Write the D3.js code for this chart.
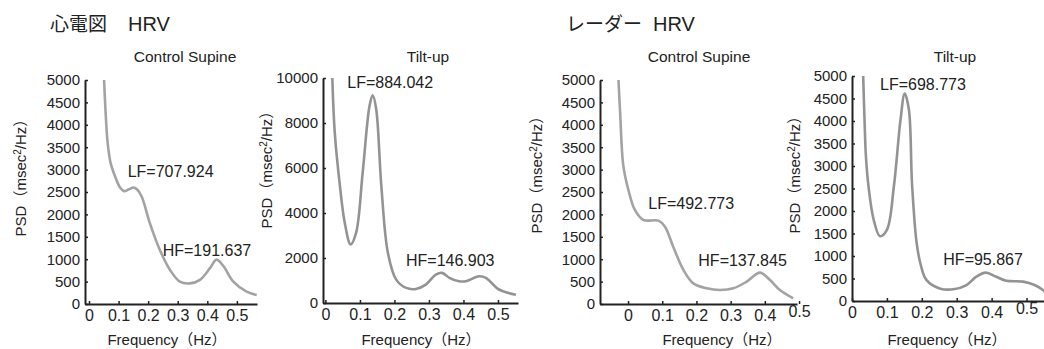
<!DOCTYPE html>
<html>
<head>
<meta charset="utf-8">
<script src="https://cdn.jsdelivr.net/npm/d3@7"></script>
<style>
  html, body { margin: 0; padding: 0; background: #fff; }
  svg { display: block; }
  text { font-family: "Liberation Sans", Arial, sans-serif; fill: #222; }
  .cjk { font-family: "Noto Sans CJK JP", "Liberation Sans", sans-serif; }
</style>
</head>
<body>
<div id="chart"></div>
<script>
// ---- datos ----
const groupTitles = ['心電図', 'レーダー'];
const panelTitles = ['Control Supine', 'Tilt-up', 'Control Supine', 'Tilt-up'];
const lfLabels = ['LF=707.924', 'LF=884.042', 'LF=492.773', 'LF=698.773'];
const hfLabels = ['HF=191.637', 'HF=146.903', 'HF=137.845', 'HF=95.867'];

const ticks5000 = [0, 500, 1000, 1500, 2000, 2500, 3000, 3500, 4000, 4500, 5000];
const ticks10000 = [0, 2000, 4000, 6000, 8000, 10000];
const freqTicks = [0, 0.1, 0.2, 0.3, 0.4, 0.5];

// ECG, supine
const ecgSupineFreq = [0.051, 0.056, 0.063, 0.073, 0.088, 0.105, 0.118, 0.135, 0.150, 0.162, 0.178, 0.206, 0.240, 0.274, 0.307, 0.341, 0.375, 0.409, 0.431, 0.454, 0.488, 0.533, 0.567];
const ecgSupinePsd  = [5000, 4300, 3600, 3150, 2850, 2600, 2520, 2560, 2600, 2560, 2400, 1800, 1200, 760, 500, 460, 540, 800, 990, 850, 500, 275, 200];

// ECG, tilt-up
const ecgTiltFreq = [0.020, 0.027, 0.042, 0.056, 0.073, 0.089, 0.108, 0.128, 0.137, 0.147, 0.162, 0.181, 0.205, 0.234, 0.262, 0.291, 0.320, 0.338, 0.359, 0.387, 0.407, 0.445, 0.465, 0.503, 0.552];
const ecgTiltPsd  = [10000, 7590, 5210, 3570, 2600, 3125, 5800, 8780, 9230, 8630, 5210, 2230, 1040, 670, 625, 820, 1260, 1340, 1120, 970, 970, 1190, 1120, 600, 370];

// Radar, supine
const radarSupineFreq = [-0.028, -0.023, -0.014, 0.001, 0.020, 0.045, 0.089, 0.108, 0.132, 0.162, 0.191, 0.230, 0.269, 0.308, 0.347, 0.386, 0.415, 0.444, 0.483];
const radarSupinePsd  = [5000, 4256, 3100, 2545, 2100, 1875, 1860, 1725, 1280, 760, 460, 350, 312, 350, 500, 700, 535, 312, 127];

// Radar, tilt-up
const radarTiltFreq = [0.032, 0.036, 0.040, 0.048, 0.062, 0.080, 0.100, 0.120, 0.139, 0.151, 0.163, 0.172, 0.185, 0.197, 0.213, 0.251, 0.290, 0.328, 0.356, 0.383, 0.413, 0.442, 0.490, 0.523, 0.547, 0.555];
const radarTiltPsd  = [5000, 4000, 3200, 2500, 1810, 1440, 1580, 2550, 4030, 4610, 4250, 2600, 1300, 800, 470, 280, 260, 355, 540, 630, 540, 450, 430, 355, 245, 185];

// ---- disposición (píxeles) ----
const width = 1044, height = 349;

const layout = [
  { x0: 85,  x1: 257,  fMin: -0.0135, fMax: 0.568, y0: 304, y1: 80, yMax: 5000,  ticks: ticks5000,  freq: ecgSupineFreq,   psd: ecgSupinePsd,
    title: [185, 62], lf: [127.7, 177], hf: [162.7, 256], ylab: [21, 170], xlab: [163, 345], stroke: '#a3a3a3' },
  { x0: 323, x1: 518,  fMin: -0.007,  fMax: 0.558, y0: 303, y1: 78, yMax: 10000, ticks: ticks10000, freq: ecgTiltFreq,     psd: ecgTiltPsd,
    title: [428, 62], lf: [347.3, 88],  hf: [406, 266],    ylab: [267, 162], xlab: [417, 345], stroke: '#939393' },
  { x0: 600, x1: 797,  fMin: -0.082,  fMax: 0.494, y0: 304, y1: 80, yMax: 5000,  ticks: ticks5000,  freq: radarSupineFreq, psd: radarSupinePsd,
    title: [699, 62], lf: [648.3, 208.5], hf: [698.3, 266], ylab: [537, 167], xlab: [718, 345], stroke: '#a3a3a3' },
  { x0: 852, x1: 1044, fMin: 0,       fMax: 0.55,  y0: 301, y1: 76, yMax: 5000,  ticks: ticks5000,  freq: radarTiltFreq,   psd: radarTiltPsd,
    title: [955, 62], lf: [880, 90],    hf: [943.3, 265],  ylab: [795, 167], xlab: [943, 345], stroke: '#939393' }
];

const svg = d3.select('#chart').append('svg')
  .attr('width', width)
  .attr('height', height);

// títulos de grupo: parte japonesa + "HRV"
function groupTitle(x, hrvX, label) {
  const t = svg.append('text').attr('x', x).attr('y', 31);
  t.append('tspan').attr('class', 'cjk').style('font-size', '19px').text(label);
  t.append('tspan').attr('x', hrvX).style('font-size', '20px').text('HRV');
}
groupTitle(50, 128, groupTitles[0]);
groupTitle(566, 653, groupTitles[1]);

layout.forEach((p, i) => {
  const x = d3.scaleLinear().domain([p.fMin, p.fMax]).range([p.x0, p.x1]);
  const y = d3.scaleLinear().domain([0, p.yMax]).range([p.y0, p.y1]);
  const g = svg.append('g');

  // ejes
  const yAxis = d3.axisLeft(y).tickValues(p.ticks).tickSizeInner(-3).tickSizeOuter(0).tickPadding(5).tickFormat(d3.format('d'));
  const xAxis = d3.axisBottom(x).tickValues(freqTicks).tickSizeInner(-3).tickSizeOuter(0).tickPadding(6)
    .tickFormat(d => d === 0 ? '0' : d3.format('.1f')(d));

  const ya = g.append('g').attr('transform', `translate(${p.x0},0)`).call(yAxis);
  const xa = g.append('g').attr('transform', `translate(0,${p.y0})`).call(xAxis);

  [ya, xa].forEach(a => {
    a.select('.domain').attr('stroke', '#222').attr('stroke-width', 2);
    a.selectAll('.tick line').attr('stroke', '#222').attr('stroke-width', 1.5);
    a.selectAll('.tick text').attr('fill', '#222');
  });
  ya.selectAll('.tick text').style('font-size', '15px');
  xa.selectAll('.tick text').style('font-size', '16px');
  // la última etiqueta del eje x va algo más arriba en los paneles del radar
  if (i >= 2) {
    xa.selectAll('.tick').filter(d => d === 0.5).select('text').attr('dy', '0.45em');
  }

  // curva PSD
  const pts = p.freq.map((f, k) => [f, p.psd[k]]);
  g.append('path')
    .datum(pts)
    .attr('fill', 'none')
    .attr('stroke', p.stroke)
    .attr('stroke-width', 2.6)
    .attr('stroke-linejoin', 'round')
    .attr('d', d3.line().x(d => x(d[0])).y(d => y(d[1])).curve(d3.curveCatmullRom.alpha(0.5)));

  // textos
  g.append('text')
    .attr('x', p.title[0]).attr('y', p.title[1])
    .attr('text-anchor', 'middle')
    .style('font-size', '15.5px')
    .text(panelTitles[i]);

  g.append('text').attr('x', p.lf[0]).attr('y', p.lf[1]).style('font-size', '16px').text(lfLabels[i]);
  g.append('text').attr('x', p.hf[0]).attr('y', p.hf[1]).style('font-size', '16px').text(hfLabels[i]);

  // etiqueta del eje y: latín en Liberation, paréntesis de ancho completo en CJK
  const yl = g.append('text')
    .attr('transform', `translate(${p.ylab[0]},${p.ylab[1] + 4}) rotate(-90)`)
    .attr('text-anchor', 'middle')
    .attr('dy', '0.35em')
    .style('font-size', '15px');
  yl.append('tspan').text('PSD');
  yl.append('tspan').attr('class', 'cjk').text('（');
  yl.append('tspan').text('msec');
  yl.append('tspan').attr('baseline-shift', 'super').style('font-size', '10px').text('2');
  yl.append('tspan').attr('baseline-shift', 'baseline').text('/Hz');
  yl.append('tspan').attr('class', 'cjk').text('）');

  const xl = g.append('text')
    .attr('x', p.xlab[0] + 4).attr('y', p.xlab[1])
    .attr('text-anchor', 'middle')
    .style('font-size', '15px');
  xl.append('tspan').text('Frequency');
  xl.append('tspan').attr('class', 'cjk').text('（');
  xl.append('tspan').text('Hz');
  xl.append('tspan').attr('class', 'cjk').text('）');
});
</script>
</body>
</html>
